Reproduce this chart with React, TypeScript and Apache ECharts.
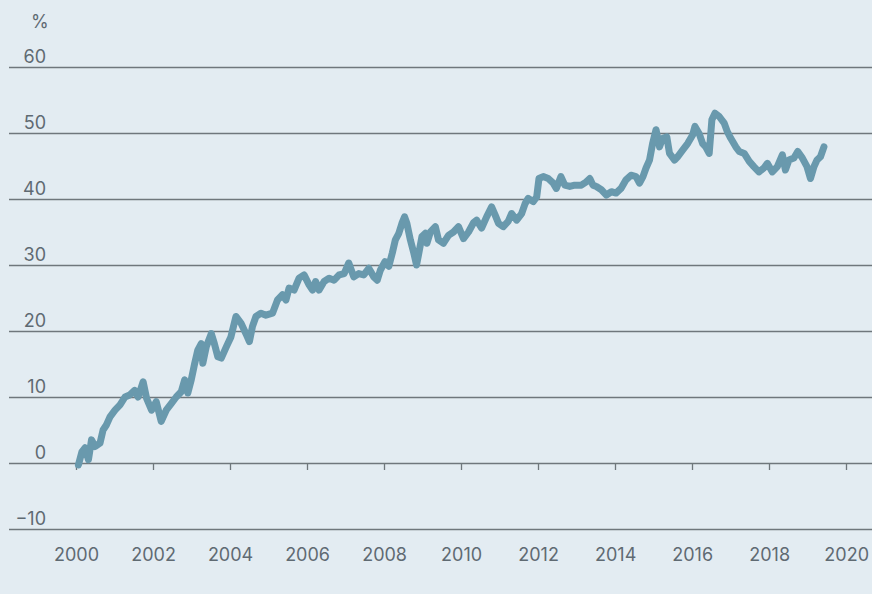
import React, { useEffect, useRef } from "react";
import * as echarts from "echarts";

const years = [
  2000.05, 2000.14, 2000.22, 2000.31, 2000.39, 2000.48, 2000.61, 2000.69, 2000.78, 2000.87,
  2001.0, 2001.13, 2001.26, 2001.38, 2001.51, 2001.6, 2001.73, 2001.82, 2001.95,
  2002.07, 2002.2, 2002.33, 2002.46, 2002.59, 2002.72, 2002.81, 2002.89, 2002.98,
  2003.07, 2003.15, 2003.24, 2003.28, 2003.37, 2003.5, 2003.58, 2003.67, 2003.76, 2003.89,
  2004.01, 2004.14, 2004.27, 2004.4, 2004.49, 2004.57, 2004.66, 2004.79, 2004.92,
  2005.09, 2005.22, 2005.35, 2005.44, 2005.52, 2005.65, 2005.78, 2005.91,
  2006.04, 2006.13, 2006.21, 2006.3, 2006.43, 2006.56, 2006.69, 2006.82, 2006.95,
  2007.07, 2007.2, 2007.33, 2007.46, 2007.59, 2007.72, 2007.81, 2007.89,
  2008.01, 2008.11, 2008.2, 2008.28, 2008.37, 2008.45, 2008.52, 2008.58, 2008.67, 2008.76, 2008.83, 2008.89, 2008.97,
  2009.06, 2009.1, 2009.19, 2009.32, 2009.4, 2009.53, 2009.66, 2009.79, 2009.92,
  2010.05, 2010.18, 2010.31, 2010.39, 2010.52, 2010.65, 2010.78, 2010.87, 2010.96,
  2011.08, 2011.21, 2011.3, 2011.43, 2011.56, 2011.65, 2011.73, 2011.86, 2011.95,
  2012.01, 2012.12, 2012.25, 2012.38, 2012.46, 2012.58, 2012.68, 2012.81, 2012.94,
  2013.11, 2013.24, 2013.33, 2013.41, 2013.5, 2013.63, 2013.76, 2013.89,
  2014.01, 2014.14, 2014.27, 2014.4, 2014.53, 2014.62, 2014.71, 2014.79, 2014.88, 2014.96,
  2015.05, 2015.14, 2015.22, 2015.33, 2015.4, 2015.53, 2015.61, 2015.74, 2015.87,
  2016.0, 2016.06, 2016.17, 2016.26, 2016.34, 2016.43, 2016.5, 2016.58, 2016.69, 2016.82, 2016.9, 2016.99,
  2017.12, 2017.21, 2017.34, 2017.47, 2017.59, 2017.72, 2017.85, 2017.94,
  2018.07, 2018.2, 2018.33, 2018.41, 2018.5, 2018.63, 2018.73, 2018.85, 2018.97,
  2019.06, 2019.15, 2019.23, 2019.32, 2019.41,
];

const values = [
  -0.3, 1.7, 2.3, 0.5, 3.5, 2.5, 3.0, 5.0, 5.8, 7.0,
  8.0, 8.8, 10.0, 10.3, 11.0, 10.0, 12.3, 9.8, 8.0,
  9.3, 6.3, 8.0, 9.0, 10.0, 10.8, 12.6, 10.6, 12.6,
  15.1, 17.1, 18.1, 15.1, 17.6, 19.6, 18.1, 16.1, 15.9, 17.6,
  19.1, 22.2, 21.2, 19.6, 18.4, 20.7, 22.2, 22.7, 22.4,
  22.7, 24.7, 25.5, 24.7, 26.5, 26.2, 28.0, 28.5,
  27.0, 26.2, 27.5, 26.2, 27.5, 28.0, 27.7, 28.5, 28.7,
  30.3, 28.2, 28.7, 28.5, 29.5, 28.2, 27.7, 29.2,
  30.5, 29.8, 31.8, 33.8, 34.8, 36.3, 37.3, 36.3, 33.8, 31.8, 30.0, 31.8, 34.3,
  34.8, 33.3, 35.0, 35.8, 33.8, 33.3, 34.5, 35.0, 35.8,
  34.0, 35.0, 36.4, 36.8, 35.6, 37.3, 38.8, 37.6, 36.3,
  35.8, 36.6, 37.8, 36.8, 37.8, 39.3, 40.1, 39.6, 40.3,
  43.1, 43.4, 43.1, 42.4, 41.6, 43.4, 42.1, 41.9, 42.1,
  42.1, 42.6, 43.1, 42.1, 41.9, 41.4, 40.6, 41.1,
  40.9, 41.6, 42.9, 43.6, 43.4, 42.4, 43.4, 44.7, 45.9, 48.4,
  50.5, 47.9, 49.2, 49.4, 46.9, 45.9, 46.4, 47.4, 48.4,
  49.7, 51.0, 49.9, 48.4, 47.9, 46.9, 52.0, 53.0, 52.5, 51.5, 50.2, 49.2,
  47.9, 47.2, 46.9, 45.7, 44.9, 44.1, 44.7, 45.4,
  44.1, 44.9, 46.7, 44.4, 45.9, 46.2, 47.2, 46.2, 44.9,
  43.1, 44.9, 45.9, 46.4, 47.9,
];

const yTicks = { min: -10, max: 60, step: 10 };
const xTicks = { min: 2000, max: 2020, step: 2 };
const unitLabel = "%";

const TEXT = "#5f6a72";
const GRID = "#6f777c";
const LINE = "#6999ad";
const BG = "#e3ecf2";
const FONT = "Inter";
const FS = 18;

export default function App() {
  const ref = useRef<HTMLDivElement>(null);
  useEffect(() => {
    document.body.style.margin = "0";
    const chart = echarts.init(ref.current!, null, { renderer: "svg" });
    const data = years.map((y, i) => [y, values[i]]);
    chart.setOption({
      animation: false,
      backgroundColor: BG,
      textStyle: { fontFamily: FONT },
      grid: [
        { left: 76.5, right: 22.3, top: 67, bottom: 65 },
        { left: 9, right: 0, top: 67, bottom: 65 },
      ],
      xAxis: [
        {
          type: "value",
          gridIndex: 0,
          min: xTicks.min,
          max: xTicks.max,
          interval: xTicks.step,
          axisLine: { show: false },
          axisTick: { show: true, length: 7, lineStyle: { color: GRID, width: 1.3 } },
          splitLine: { show: false },
          axisLabel: {
            color: TEXT,
            fontSize: FS,
            fontFamily: FONT,
            margin: 16,
            formatter: (v: number) => String(v),
          },
        },
        {
          type: "value",
          gridIndex: 1,
          min: 0,
          max: 1,
          show: false,
        },
      ],
      yAxis: [
        {
          type: "value",
          gridIndex: 0,
          min: yTicks.min,
          max: yTicks.max,
          interval: yTicks.step,
          show: false,
        },
        {
          type: "value",
          gridIndex: 1,
          min: yTicks.min,
          max: yTicks.max,
          interval: yTicks.step,
          axisLine: { show: false },
          axisTick: { show: false },
          splitLine: { show: true, lineStyle: { color: GRID, width: 1.3 } },
          axisLabel: {
            color: TEXT,
            fontSize: FS,
            fontFamily: FONT,
            margin: -37,
            align: "right",
            verticalAlign: "bottom",
            padding: [0, 0, 2, 0],
            formatter: (v: number) => (v < 0 ? "\u2212" + Math.abs(v) : String(v)),
          },
        },
      ],
      graphic: [
        {
          type: "text",
          left: 31,
          top: 12,
          style: { text: unitLabel, fill: TEXT, fontSize: FS, fontFamily: FONT },
        },
      ],
      series: [
        {
          type: "line",
          xAxisIndex: 0,
          yAxisIndex: 0,
          data,
          showSymbol: false,
          symbol: "none",
          lineStyle: { color: LINE, width: 7, join: "round", cap: "round" },
        },
      ],
    });
    return () => chart.dispose();
  }, []);
  return (
    <div
      ref={ref}
      style={{ position: "fixed", left: 0, top: 0, width: 872, height: 594 }}
    />
  );
}
